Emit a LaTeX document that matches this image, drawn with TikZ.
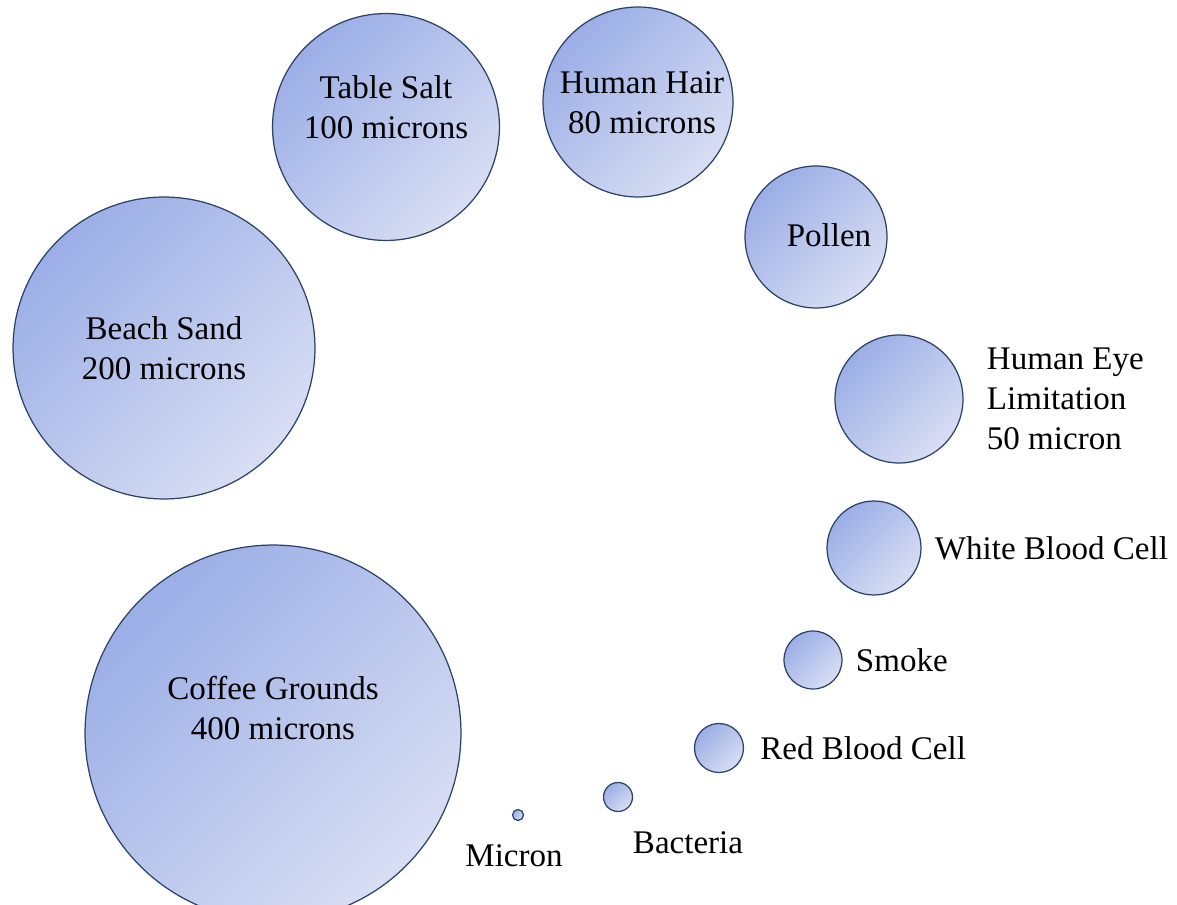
\documentclass[tikz,border=0pt]{standalone}
\usepackage{fontspec}
\setmainfont{Liberation Serif}
\usetikzlibrary{positioning}
\definecolor{rimblue}{HTML}{2B4168}
\definecolor{shadetop}{HTML}{9BAEE6}
\definecolor{shadelow}{HTML}{D8DEF3}

\begin{document}
\begin{tikzpicture}[x=0.02cm, y=-0.02cm,
    particle/.style={circle, draw=rimblue, line width=0.7pt, top color=shadetop, bottom color=shadelow, shading angle=45, inner sep=0pt},
    inlbl/.style={inner sep=0pt, align=center, font=\fontsize{18.8}{22.7}\selectfont},
    sidelbl/.style={inlbl, align=left}
  ]
    \useasboundingbox (0,0) rectangle (1177,905);
    \node[particle, minimum size=7.52cm] (coffee) at (273,733) {};
    \node[particle, minimum size=6.04cm] (beach) at (164,348) {};
    \node[particle, minimum size=4.54cm] (salt) at (386,127) {};
    \node[particle, minimum size=3.80cm] (hair) at (638,102) {};
    \node[particle, minimum size=2.84cm] (pollen) at (816,237) {};
    \node[particle, minimum size=2.56cm] (eye) at (899,399) {};
    \node[particle, minimum size=1.88cm] (wbc) at (874,548) {};
    \node[particle, minimum size=1.16cm] (smoke) at (813,660) {};
    \node[particle, minimum size=0.98cm] (rbc) at (719,748) {};
    \node[particle, minimum size=0.58cm] (bacteria) at (618,797) {};
    \node[particle, minimum size=0.22cm] (micron) at (518,815) {};
    \node[inlbl] (coffeelbl) at (273,708) {Coffee Grounds\\400 microns};
    \node[inlbl] (beachlbl) at (164,348) {Beach Sand\\200 microns};
    \node[inlbl] (saltlbl) at (386,107) {Table Salt\\100 microns};
    \node[inlbl] (hairlbl) at (642,103) {Human Hair\\80 microns};
    \node[inlbl] (pollenlbl) at (829,235) {Pollen};
    \node[sidelbl, right=0.46cm of eye] (eyelbl) {Human Eye\\Limitation\\50 micron};
    \node[sidelbl, right=0.26cm of wbc] (wbclbl) {White Blood Cell};
    \node[sidelbl, right=0.26cm of smoke] (smokelbl) {Smoke};
    \node[sidelbl, right=0.32cm of rbc] (rbclbl) {Red Blood Cell};
    \node[inlbl] (bacterialbl) at (688,843) {Bacteria};
    \node[inlbl] (micronlbl) at (514,856) {Micron};
  \end{tikzpicture}
\end{document}
